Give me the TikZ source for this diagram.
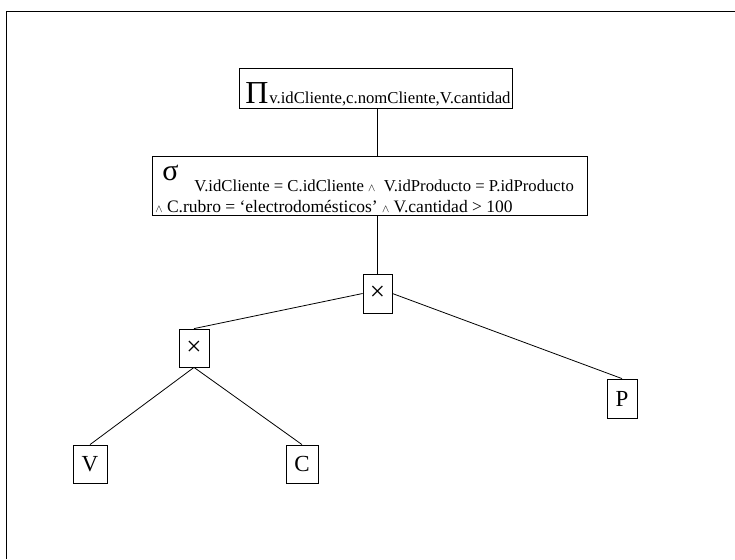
\documentclass[tikz,border=0pt]{standalone}
\usepackage{fontspec}
\setmainfont{Liberation Serif}
\usetikzlibrary{positioning}

\newcommand{\yy}{{\fontsize{11}{11}\selectfont$\wedge$}}

\begin{document}
\begin{tikzpicture}[x=1pt, y=-1pt, line width=0.8pt,
                    caja/.style={draw, inner sep=0pt, minimum width=30pt, minimum height=38pt, font=\fontsize{23}{23}\selectfont},
                    marco/.style={draw, inner sep=0pt},
                    sub/.style={inner sep=0pt, anchor=base west, font=\fontsize{16.7}{16.7}\selectfont}]

\useasboundingbox (0,0) rectangle (735,559);
\draw (6,559) -- (6,11) -- (735,11);

% proyeccion
\node[marco, minimum width=273pt, minimum height=40pt] (pi) at (375.5,88) {};
\node[sub, font=\fontsize{32}{32}\selectfont] (pisym) at (245,103) {Π};
\node[sub] (pisub) at (pisym.base east) {v.idCliente,c.nomCliente,V.cantidad};

% seleccion
\node[marco, minimum width=435pt, minimum height=59pt] (sigma) at (369.5,185.5) {};
\node[sub, font=\fontsize{30}{30}\selectfont] (sigsym) at (162,180) {σ};
\node[sub] (sig1) at (194,191) {V.idCliente = C.idCliente \yy{}\ \ V.idProducto = P.idProducto};
\node[sub, font=\fontsize{17.5}{17.5}\selectfont] (sig2) at (155,212) {\yy{} C.rubro = ‘electrodomésticos’ \yy{} V.cantidad > 100};

% productos y relaciones
\node[caja, minimum width=29pt, minimum height=39pt, font=\fontsize{27}{27}\selectfont] (top) at (377.5,293.5) {×};
\node[caja, font=\fontsize{27}{27}\selectfont] (izq) at (194,348) {×};
\node[caja, minimum height=39pt] (P) at (622,398.5) {P};
\node[caja, minimum width=34pt] (V) at (90,464) {V};
\node[caja, minimum width=32pt] (C) at (302,464) {C};

\draw (top.north) -- (top.north |- sigma.south);
\draw (top.north |- sigma.north) -- (top.north |- pi.south);
\draw (top.west) -- (izq.north);
\draw (top.east) -- (P.north);
\draw (izq.south) -- (V.north);
\draw (izq.south) -- (C.north);
\end{tikzpicture}
\end{document}
